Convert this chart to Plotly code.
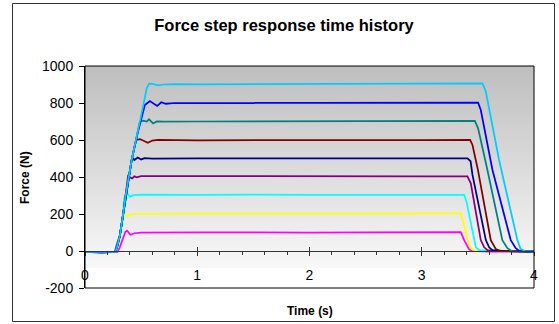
import plotly.graph_objects as go

# ---- data ----
t_100 = [0, 0.15, 0.29, 0.31, 0.34, 0.36, 0.375, 0.405, 0.44, 0.5, 1.0, 1.5, 2.0, 2.5, 3.0, 3.348, 3.378, 3.422, 3.45, 3.6, 3.8, 4.0]
f_100 = [-5, -7, -5, 20, 70, 104, 110, 88, 96, 99, 101, 99, 100, 101, 100, 102, 59, 9, 0, -4, -3, -4]

t_200 = [0, 0.15, 0.27, 0.29, 0.31, 0.34, 0.355, 0.376, 0.40, 0.45, 1.0, 1.5, 2.0, 2.5, 3.0, 3.345, 3.363, 3.422, 3.446, 3.5, 4.0]
f_200 = [-5, -6, -5, 25, 80, 204, 198, 186, 196, 200, 202, 201, 203, 202, 203, 203, 171, 32, 9, 0, -2]

t_300 = [0, 0.15, 0.27, 0.285, 0.31, 0.34, 0.347, 0.37, 0.40, 0.43, 0.5, 1.0, 1.5, 2.0, 2.5, 3.0, 3.378, 3.399, 3.482, 3.511, 3.6, 4.0]
f_300 = [-5, -7, -5, 20, 80, 200, 280, 318, 293, 302, 305, 303, 305, 303, 304, 303, 303, 267, 20, 5, 0, -2]

t_400 = [0, 0.15, 0.27, 0.285, 0.31, 0.34, 0.36, 0.385, 0.40, 0.42, 0.44, 0.46, 0.5, 1.0, 1.5, 2.0, 2.5, 3.0, 3.407, 3.437, 3.526, 3.556, 3.585, 3.7, 4.0]
f_400 = [-5, -7, -5, 20, 80, 200, 290, 411, 398, 392, 404, 398, 405, 404, 405, 403, 405, 404, 404, 366, 59, 20, 5, 0, -3]

t_500 = [0, 0.15, 0.27, 0.285, 0.31, 0.34, 0.36, 0.415, 0.425, 0.44, 0.47, 0.5, 0.53, 0.6, 1.0, 1.5, 2.0, 2.5, 3.0, 3.407, 3.435, 3.452, 3.571, 3.6, 3.63, 3.75, 4.0]
f_500 = [-5, -8, -5, 20, 80, 200, 290, 490, 502, 492, 505, 495, 502, 500, 501, 500, 502, 501, 501, 501, 485, 411, 59, 20, 5, 0, -3]

t_600 = [0, 0.15, 0.27, 0.285, 0.31, 0.34, 0.36, 0.415, 0.455, 0.49, 0.52, 0.56, 0.6, 0.65, 1.0, 1.5, 2.0, 2.5, 3.0, 3.431, 3.452, 3.50, 3.615, 3.66, 3.7, 4.0]
f_600 = [-5, -6, -5, 20, 80, 200, 290, 490, 600, 605, 595, 585, 597, 600, 598, 600, 599, 600, 599, 600, 573, 440, 59, 10, 0, -4]

t_700 = [0, 0.15, 0.265, 0.28, 0.31, 0.34, 0.36, 0.415, 0.47, 0.489, 0.52, 0.55, 0.57, 0.607, 0.64, 0.7, 1.0, 1.5, 2.0, 2.5, 3.0, 3.473, 3.502, 3.585, 3.718, 3.763, 3.8, 4.0]
f_700 = [-5, -7, -5, 30, 85, 200, 290, 490, 640, 699, 705, 700, 712, 690, 700, 699, 700, 701, 699, 700, 701, 703, 663, 438, 59, 15, 0, -3]

t_800 = [0, 0.15, 0.27, 0.285, 0.31, 0.34, 0.36, 0.415, 0.47, 0.533, 0.578, 0.643, 0.68, 0.72, 0.8, 1.0, 1.5, 2.0, 2.5, 3.0, 3.502, 3.526, 3.63, 3.793, 3.837, 3.87, 4.0]
f_800 = [-5, -9, -5, 20, 80, 200, 290, 490, 640, 789, 811, 784, 804, 796, 800, 799, 800, 801, 800, 802, 802, 762, 438, 59, 15, 0, -3]

t_900 = [0, 0.15, 0.27, 0.285, 0.31, 0.34, 0.36, 0.415, 0.47, 0.52, 0.55, 0.57, 0.6, 0.65, 0.7, 0.8, 1.0, 1.5, 2.0, 2.5, 3.0, 3.541, 3.571, 3.689, 3.852, 3.88, 3.92, 4.0]
f_900 = [-5, -6, -5, 20, 80, 200, 290, 490, 640, 790, 880, 905, 904, 895, 900, 902, 901, 902, 900, 902, 901, 906, 861, 492, 59, 12, 0, -3]

x_ticks = [0, 1, 2, 3, 4]
y_ticks = [-200, 0, 200, 400, 600, 800, 1000]
y_tick_text = ["-200", "0", "200", "400", "600", "800", "1000"]

series = [
    (t_100, f_100, "#FF00FF"),
    (t_200, f_200, "#FFFF00"),
    (t_300, f_300, "#00FFFF"),
    (t_400, f_400, "#800080"),
    (t_500, f_500, "#000080"),
    (t_600, f_600, "#800000"),
    (t_700, f_700, "#008080"),
    (t_800, f_800, "#0000FF"),
    (t_900, f_900, "#00CCFF"),
]

FONT = "Liberation Sans, Arial, sans-serif"

fig = go.Figure()
for t, f, c in series:
    fig.add_trace(go.Scatter(x=t, y=f, mode="lines", line=dict(color=c, width=1.75),
                             showlegend=False, hoverinfo="skip"))
# empty carriers so the overlaid axes (zero line ticks, bottom labels) are drawn
for ax in ("x2", "x3", "x4"):
    fig.add_trace(go.Scatter(x=[], y=[], xaxis=ax, yaxis="y", mode="lines",
                             showlegend=False, hoverinfo="skip"))

L, R, T, B = 85, 534, 66, 288
def px2x(p):
    return (p - L) / (R - L)
def py2y(p):
    return (B - p) / (B - T)

# ---- plot-area gradient background (grey at top to near white) ----
shapes = []
n = 101
y_lo = py2y(268)
for i in range(n):
    y0 = y_lo + (1 - y_lo) * i / n
    y1 = y_lo + (1 - y_lo) * (i + 1.3) / n
    frac = (i + 0.5) / n  # 0 bottom -> 1 top
    g = round(248 - (248 - 190) * frac)
    shapes.append(dict(type="rect", xref="paper", yref="paper", x0=0, x1=1,
                       y0=y0, y1=min(y1, 1), fillcolor=f"rgb({g},{g},{g})",
                       line=dict(width=0), layer="below"))
# plot-area frame
shapes.append(dict(type="rect", xref="paper", yref="paper", x0=0, x1=1, y0=0, y1=1,
                   line=dict(color="black", width=1), layer="above"))
# chart-area border
shapes.append(dict(type="rect", xref="paper", yref="paper",
                   x0=px2x(12.5), x1=px2x(554.5), y0=py2y(321.5), y1=py2y(3.5),
                   line=dict(color="#333333", width=1), layer="above"))

zero_pos = 200 / 1200

fig.update_layout(
    width=559, height=324,
    margin=dict(l=L, r=559 - R, t=T, b=324 - B),
    paper_bgcolor="white", plot_bgcolor="white",
    font=dict(family=FONT, color="black"),
    title=dict(text="<b>Force step response time history</b>", x=284 / 559,
               xanchor="center", y=1 - 25 / 324, yanchor="middle",
               font=dict(size=16.5, family=FONT, color="black")),
    shapes=shapes,
    xaxis=dict(range=[0, 4], showticklabels=False, ticks="", showline=False,
               showgrid=False, zeroline=False),
    xaxis2=dict(range=[0, 4], overlaying="x", anchor="free", position=zero_pos,
                side="bottom", showline=True, linecolor="#333333", linewidth=1,
                tickvals=x_ticks, ticks="outside", ticklen=4, tickcolor="#333333",
                minor=dict(dtick=0.2, ticks="outside", ticklen=3, tickcolor="#333333"),
                showticklabels=False, showgrid=False, zeroline=False),
    xaxis3=dict(range=[0, 4], overlaying="x", anchor="free", position=zero_pos,
                side="bottom", showline=False, tickvals=x_ticks, ticks="inside",
                ticklen=4, tickcolor="#333333", showticklabels=False,
                showgrid=False, zeroline=False),
    xaxis4=dict(range=[0, 4], overlaying="x", anchor="free", position=py2y(265),
                side="bottom", showline=False, ticks="", tickvals=x_ticks,
                ticktext=[str(v) for v in x_ticks], showgrid=False, zeroline=False,
                tickfont=dict(size=14, family=FONT)),
    yaxis=dict(range=[-200, 1000], tickvals=y_ticks, ticktext=y_tick_text,
               ticks="outside", ticklen=5,
               tickcolor="black", showline=True, linecolor="black", linewidth=1,
               showgrid=False, zeroline=False, ticklabelstandoff=3,
               tickfont=dict(size=14, family=FONT)),
    annotations=[
        dict(text="<b>Force (N)</b>", xref="paper", yref="paper", x=px2x(25), y=0.5,
             textangle=-90, showarrow=False, xanchor="center", yanchor="middle",
             font=dict(size=12, family=FONT)),
        dict(text="<b>Time (s)</b>", xref="paper", yref="paper", x=px2x(310), y=py2y(311),
             showarrow=False, xanchor="center", yanchor="middle",
             font=dict(size=12, family=FONT)),
    ],
)

fig.write_html("out.html")
